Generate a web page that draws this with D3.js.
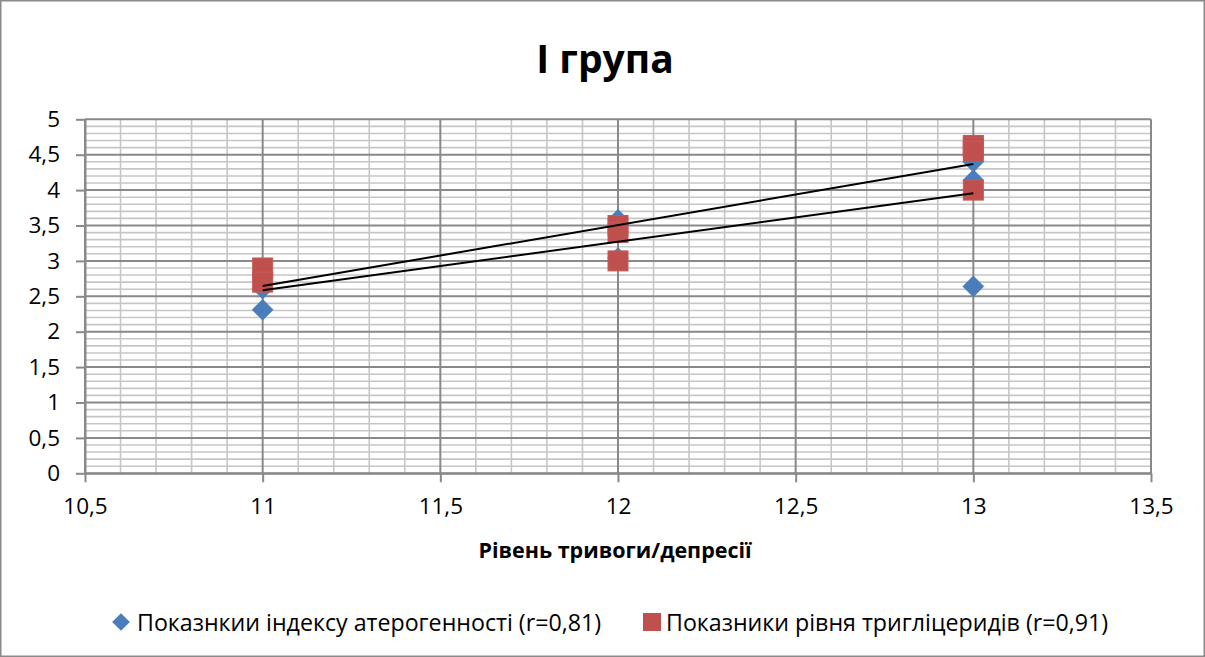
<!DOCTYPE html>
<html>
<head>
<meta charset="utf-8">
<script src="https://cdn.jsdelivr.net/npm/d3@7/dist/d3.min.js"></script>
<style>
  html, body { margin: 0; padding: 0; background: #fff; }
  svg { display: block; font-family: "Open Sans", "Noto Sans", sans-serif; }
</style>
</head>
<body>
<svg id="chart" width="1205" height="657"></svg>
<script>
// Рівень тривоги/депресії (x) та показники (y)
const atheroX = [11, 11, 11, 12, 12, 13, 13, 13, 13];
const atheroY = [2.31, 2.61, 2.8, 3.58, 3.04, 4.6, 4.40, 4.14, 2.64];
const trigX   = [11, 11, 12, 12, 12, 13, 13, 13, 13];
const trigY   = [2.9, 2.7, 3.5, 3.4, 3.0, 4.63, 4.6, 4.55, 4.0];

const xTicks = [10.5, 11, 11.5, 12, 12.5, 13, 13.5];
const yTicks = [0, 0.5, 1, 1.5, 2, 2.5, 3, 3.5, 4, 4.5, 5];

const titleText = "I група";
const xTitleText = "Рівень тривоги/депресії";
const legendLabels = [
  "Показнкии індексу атерогенності (r=0,81)",
  "Показники рівня тригліцеридів (r=0,91)"
];

const blue = "#4a7ebb";
const red = "#c0504d";
const majorGrid = "#898989";
const minorGrid = "#c6c6c6";

const svg = d3.select("#chart");
const W = 1205, H = 657;

// chart border
svg.append("rect")
  .attr("x", 0.75).attr("y", 0.75)
  .attr("width", W - 1.5).attr("height", H - 1.5)
  .attr("fill", "#fff").attr("stroke", "#8a8a8a").attr("stroke-width", 1.5);

const plot = { left: 85, right: 1151, top: 119.3, bottom: 473.3 };

const x = d3.scaleLinear().domain([10.5, 13.5]).range([plot.left, plot.right]);
const y = d3.scaleLinear().domain([0, 5]).range([plot.bottom, plot.top]);

const locale = d3.formatLocale({ decimal: ",", thousands: " ", grouping: [3], currency: ["", ""] });
const fmt = v => locale.format("~g")(v);

// minor gridlines every 0.1
const g = svg.append("g");
const minorX = d3.range(0, 31).map(i => 10.5 + i * 0.1).filter((v, i) => i % 5 !== 0);
const minorY = d3.range(0, 51).map(i => i * 0.1).filter((v, i) => i % 5 !== 0);

g.selectAll(".mx").data(minorX).join("line")
  .attr("x1", d => x(d)).attr("x2", d => x(d))
  .attr("y1", plot.top).attr("y2", plot.bottom)
  .attr("stroke", minorGrid).attr("stroke-width", 1.6);
g.selectAll(".my").data(minorY).join("line")
  .attr("x1", plot.left).attr("x2", plot.right)
  .attr("y1", d => y(d)).attr("y2", d => y(d))
  .attr("stroke", minorGrid).attr("stroke-width", 1.6);

// major gridlines every 0.5
g.selectAll(".Mx").data(xTicks).join("line")
  .attr("x1", d => x(d)).attr("x2", d => x(d))
  .attr("y1", plot.top).attr("y2", plot.bottom)
  .attr("stroke", majorGrid).attr("stroke-width", 2);
g.selectAll(".My").data(yTicks).join("line")
  .attr("x1", plot.left).attr("x2", plot.right)
  .attr("y1", d => y(d)).attr("y2", d => y(d))
  .attr("stroke", majorGrid).attr("stroke-width", 2);

// axes
const xAxis = d3.axisBottom(x).tickValues(xTicks).tickFormat(fmt).tickSizeInner(9).tickSizeOuter(0).tickPadding(16);
const yAxis = d3.axisLeft(y).tickValues(yTicks).tickFormat(fmt).tickSizeInner(9).tickSizeOuter(0).tickPadding(16);

const gx = svg.append("g").attr("transform", `translate(0,${plot.bottom})`).call(xAxis);
const gy = svg.append("g").attr("transform", `translate(${plot.left},0)`).call(yAxis);
[gx, gy].forEach(a => {
  a.select(".domain").attr("stroke", majorGrid).attr("stroke-width", 2);
  a.selectAll(".tick line").attr("stroke", majorGrid).attr("stroke-width", 2);
  a.selectAll(".tick text").attr("fill", "#000").style("font-size", "22.5px")
    .style("font-family", '"Open Sans", sans-serif');
});
gx.selectAll(".tick text").attr("dy", "0.71em");

// markers
const diamond = d3.symbol().type(d3.symbolDiamond2).size(285);
const atheroPts = atheroX.map((v, i) => [v, atheroY[i]]);
const trigPts = trigX.map((v, i) => [v, trigY[i]]);

svg.append("g").selectAll("path").data(atheroPts).join("path")
  .attr("d", diamond)
  .attr("transform", d => `translate(${x(d[0])},${y(d[1])})`)
  .attr("fill", blue).attr("stroke", blue).attr("stroke-width", 0.5);

const sq = 20;
svg.append("g").selectAll("rect").data(trigPts).join("rect")
  .attr("x", d => x(d[0]) - sq / 2).attr("y", d => y(d[1]) - sq / 2)
  .attr("width", sq).attr("height", sq)
  .attr("fill", red).attr("stroke", "#c55a57").attr("stroke-width", 1);

// linear trend lines (least squares)
function fit(xs, ys) {
  const mx = d3.mean(xs), my = d3.mean(ys);
  const sxy = d3.sum(xs, (v, i) => (v - mx) * (ys[i] - my));
  const sxx = d3.sum(xs, v => (v - mx) * (v - mx));
  const b = sxy / sxx, a = my - b * mx;
  const x0 = d3.min(xs), x1 = d3.max(xs);
  return [[x0, a + b * x0], [x1, a + b * x1]];
}
const line = d3.line().x(d => x(d[0])).y(d => y(d[1]));
[fit(atheroX, atheroY), fit(trigX, trigY)].forEach(seg => {
  svg.append("path").attr("d", line(seg))
    .attr("fill", "none").attr("stroke", "#000").attr("stroke-width", 2);
});

// title
svg.append("text").attr("x", 605).attr("y", 73)
  .attr("text-anchor", "middle")
  .style("font-size", "39px").style("font-weight", "bold")
  .text(titleText);

// x-axis title
svg.append("text").attr("x", 615).attr("y", 558)
  .attr("text-anchor", "middle")
  .style("font-size", "21.5px").style("font-weight", "bold")
  .text(xTitleText);

// legend
const legend = svg.append("g");
legend.append("path")
  .attr("d", d3.symbol().type(d3.symbolDiamond2).size(200)())
  .attr("transform", "translate(121,622)")
  .attr("fill", blue);
legend.append("text").attr("x", 137).attr("y", 631)
  .style("font-size", "23.2px").text(legendLabels[0]);
legend.append("rect").attr("x", 643).attr("y", 613).attr("width", 18).attr("height", 18)
  .attr("fill", red);
legend.append("text").attr("x", 666).attr("y", 631)
  .style("font-size", "23.2px").text(legendLabels[1]);
</script>
</body>
</html>
